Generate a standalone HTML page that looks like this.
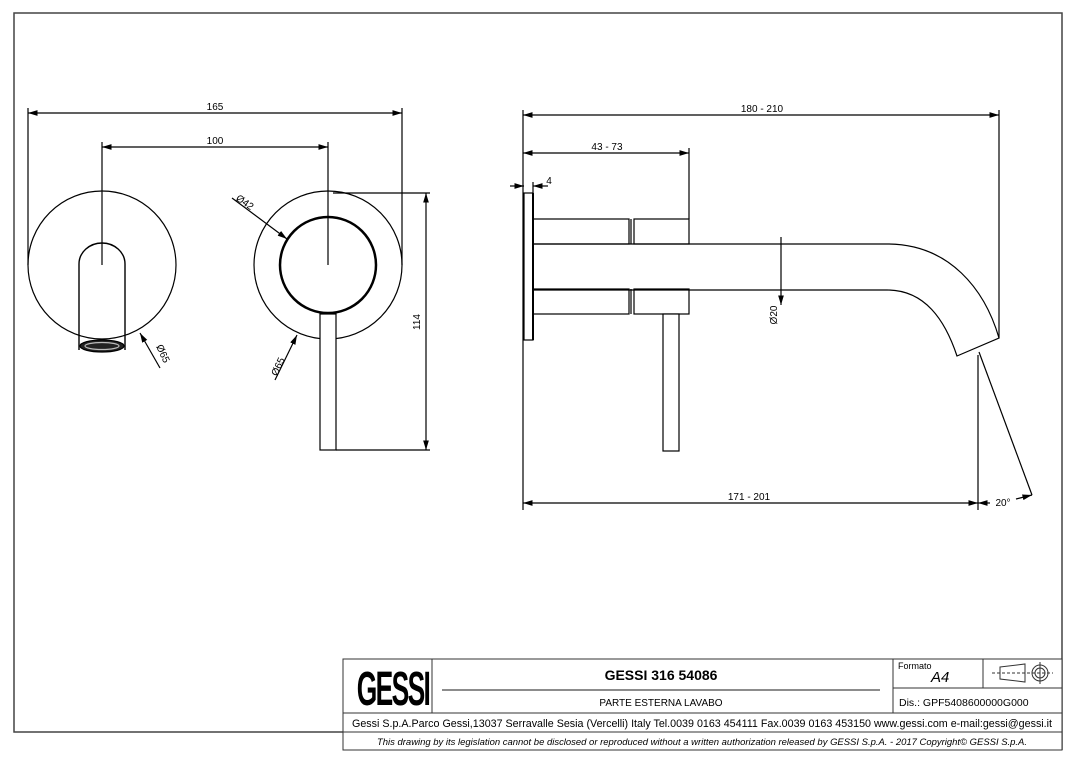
<!DOCTYPE html>
<html><head><meta charset="utf-8"><style>
html,body{margin:0;padding:0;background:#fff;}
svg{display:block;font-family:"Liberation Sans",Arial,sans-serif;}
</style></head><body>
<svg width="1084" height="764" viewBox="0 0 1084 764" xmlns="http://www.w3.org/2000/svg">
<defs>
<marker id="a" viewBox="0 0 10 6" refX="10" refY="3" markerWidth="8" markerHeight="5" orient="auto-start-reverse"><path d="M0,0 L10,3 L0,6 z" fill="#000"/></marker>
</defs>
<path d="M343,732 H14 V13 H1062 V750" fill="none" stroke="#444" stroke-width="1.5"/>
<g fill="none" stroke="#000" stroke-width="1.2">
<circle cx="102" cy="265" r="74"/>
<path d="M79,350 V264 A23,21 0 0 1 125,264 V350" stroke-width="1.4"/>
<ellipse cx="102" cy="346" rx="22" ry="6" fill="#222"/>
<ellipse cx="102" cy="346" rx="17" ry="3.5" stroke="#bbb" fill="none"/>
<line x1="102" y1="142" x2="102" y2="265"/>
<circle cx="328" cy="265" r="74"/>
<circle cx="328" cy="265" r="48" stroke-width="2.5"/>
<line x1="328" y1="142" x2="328" y2="265"/>
<rect x="320" y="314" width="16" height="136" fill="#fff"/>
<line x1="28" y1="108" x2="28" y2="265"/>
<line x1="402" y1="108" x2="402" y2="265"/>
<line x1="28" y1="113" x2="402" y2="113" marker-start="url(#a)" marker-end="url(#a)"/>
<line x1="102" y1="147" x2="328" y2="147" marker-start="url(#a)" marker-end="url(#a)"/>
<line x1="333" y1="193" x2="430" y2="193"/>
<line x1="336" y1="450" x2="430" y2="450"/>
<line x1="426" y1="193" x2="426" y2="450" marker-start="url(#a)" marker-end="url(#a)"/>
<line x1="232" y1="198" x2="287" y2="239" marker-end="url(#a)"/>
<line x1="160" y1="368" x2="140" y2="333" marker-end="url(#a)"/>
<line x1="275" y1="380" x2="297" y2="335" marker-end="url(#a)"/>
<rect x="524" y="193" width="9" height="147"/>
<line x1="533" y1="193" x2="533" y2="340" stroke-width="2"/>
<rect x="533" y="219" width="96" height="25"/>
<rect x="533" y="289" width="96" height="25"/>
<rect x="634" y="219" width="55" height="25"/>
<rect x="634" y="289" width="55" height="25"/>
<line x1="631" y1="219" x2="631" y2="244"/>
<line x1="631" y1="289" x2="631" y2="314"/>
<path d="M533,244 H887 C950,244 985,290 999,338 L957,356 C945,320 925,290 887,290 H533"/>
<rect x="663" y="314" width="16" height="137" fill="#fff"/>
<line x1="523" y1="110" x2="523" y2="510"/>
<line x1="999" y1="110" x2="999" y2="338"/>
<line x1="689" y1="148" x2="689" y2="219"/>
<line x1="523" y1="115" x2="999" y2="115" marker-start="url(#a)" marker-end="url(#a)"/>
<line x1="523" y1="153" x2="689" y2="153" marker-start="url(#a)" marker-end="url(#a)"/>
<line x1="510" y1="186" x2="524" y2="186" marker-end="url(#a)"/>
<line x1="548" y1="186" x2="533" y2="186" marker-end="url(#a)"/>
<line x1="533" y1="182" x2="533" y2="193"/>
<line x1="781" y1="237" x2="781" y2="305" marker-end="url(#a)"/>
<line x1="978" y1="355" x2="978" y2="510"/>
<line x1="979" y1="352" x2="1032" y2="495"/>
<line x1="523" y1="503" x2="978" y2="503" marker-start="url(#a)" marker-end="url(#a)"/>
<line x1="978" y1="503" x2="990" y2="503" marker-start="url(#a)"/>
<line x1="1016" y1="499" x2="1032" y2="495" marker-end="url(#a)"/>
</g>
<g font-size="10" fill="#000" text-anchor="middle">
<text x="215" y="110">165</text>
<text x="215" y="144">100</text>
<text x="420" y="322" transform="rotate(-90 420 322)">114</text>
<text x="243" y="205" transform="rotate(35 243 205)">Ø42</text>
<text x="160" y="355" transform="rotate(65 160 355)">Ø65</text>
<text x="281" y="368" transform="rotate(-65 281 368)">Ø65</text>
<text x="762" y="112">180 - 210</text>
<text x="607" y="150">43 - 73</text>
<text x="549" y="184">4</text>
<text x="777" y="315" transform="rotate(-90 777 315)">Ø20</text>
<text x="749" y="500">171 - 201</text>
<text x="1003" y="506">20°</text>
</g>
<g fill="none" stroke="#333" stroke-width="1">
<rect x="343" y="659" width="719" height="91" fill="#fff"/>
<line x1="343" y1="713" x2="1062" y2="713"/>
<line x1="343" y1="732" x2="1062" y2="732"/>
<line x1="432" y1="659" x2="432" y2="713"/>
<line x1="893" y1="659" x2="893" y2="713"/>
<line x1="983" y1="659" x2="983" y2="688"/>
<line x1="893" y1="688" x2="1062" y2="688"/>
<line x1="442" y1="690" x2="880" y2="690" stroke="#666" stroke-width="1.5"/>
<path d="M1000,667 L1025,664 V682 L1000,679 Z"/>
<line x1="992" y1="673" x2="1053" y2="673" stroke-dasharray="3,2"/>
<circle cx="1040" cy="673" r="8"/>
<circle cx="1040" cy="673" r="5"/>
<line x1="1040" y1="662" x2="1040" y2="684"/>
</g>
<text x="393" y="705" font-size="48" font-weight="bold" text-anchor="middle" transform="translate(393 0) scale(0.55 1) translate(-393 0)" fill="#000" letter-spacing="-3">GESSI</text>
<text x="661" y="680" font-size="14" font-weight="bold" text-anchor="middle">GESSI 316 54086</text>
<text x="661" y="706" font-size="10" text-anchor="middle">PARTE ESTERNA LAVABO</text>
<text x="898" y="669" font-size="9">Formato</text>
<text x="931" y="682" font-size="15" font-style="italic">A4</text>
<text x="899" y="706" font-size="10.5">Dis.: GPF5408600000G000</text>
<text x="702" y="727" font-size="10.8" text-anchor="middle" textLength="700" lengthAdjust="spacingAndGlyphs">Gessi S.p.A.Parco Gessi,13037 Serravalle Sesia (Vercelli) Italy Tel.0039 0163 454111 Fax.0039 0163 453150 www.gessi.com e-mail:gessi@gessi.it</text>
<text x="702" y="745" font-size="9" font-style="italic" text-anchor="middle" textLength="650" lengthAdjust="spacingAndGlyphs">This drawing by its legislation cannot be disclosed or reproduced without a written authorization released by GESSI S.p.A. - 2017 Copyright© GESSI S.p.A.</text>
</svg>
</body></html>
